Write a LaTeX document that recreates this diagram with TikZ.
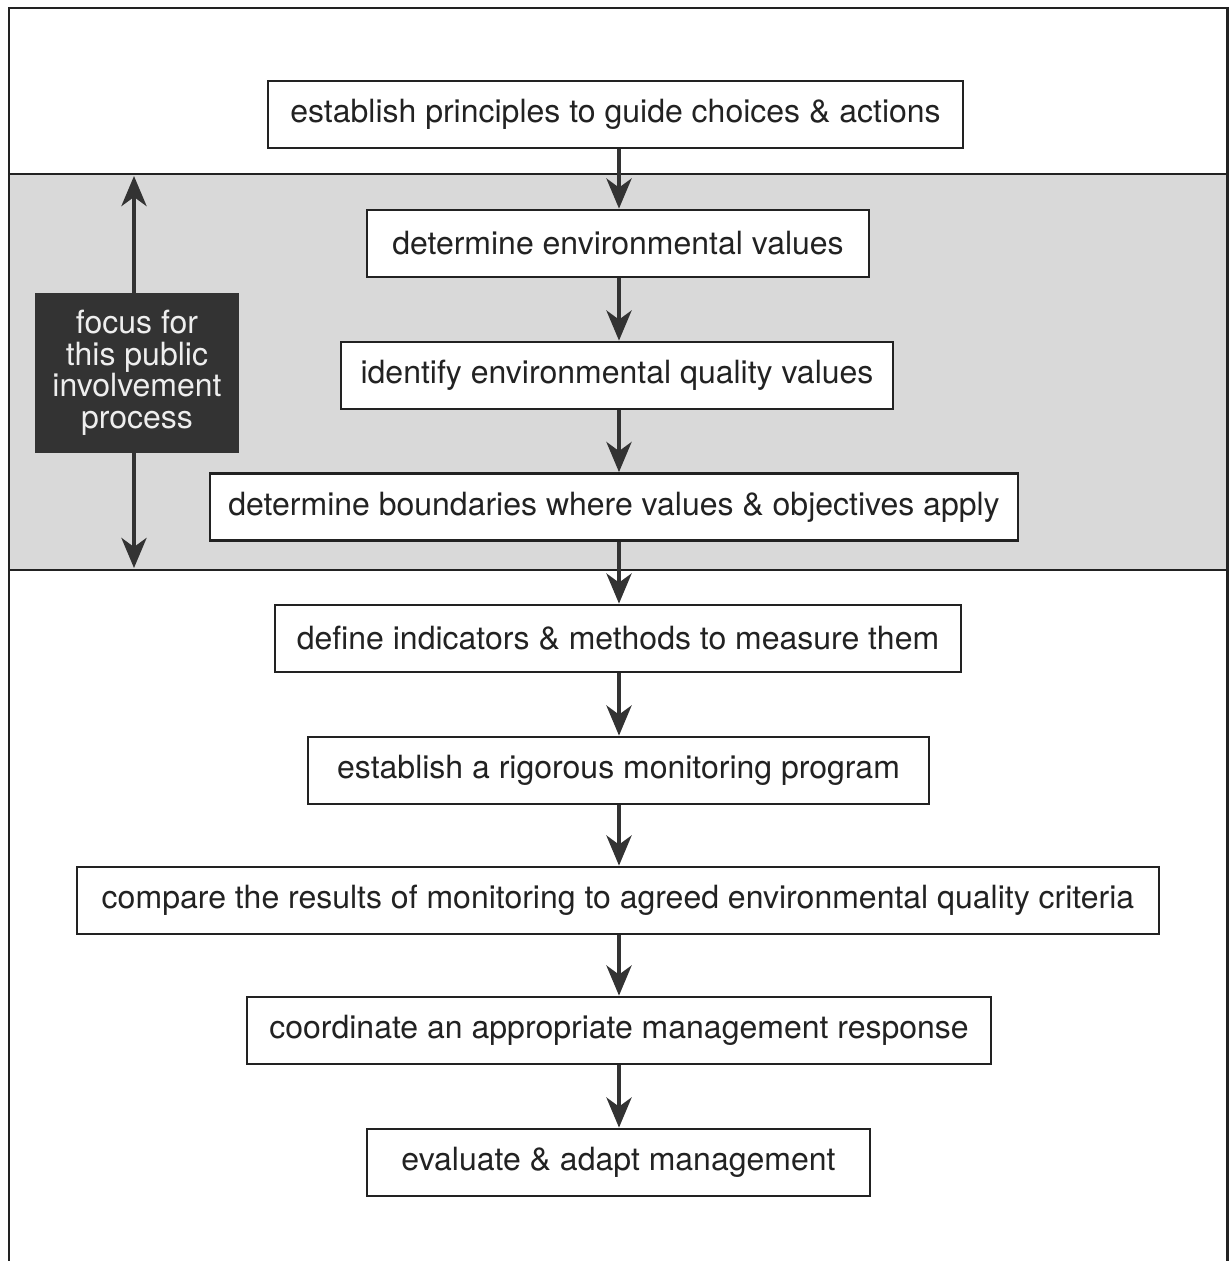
\documentclass[tikz,border=0pt]{standalone}
\usepackage{fontspec}
\setmainfont{TeX Gyre Heros}
\usetikzlibrary{arrows.meta}
\definecolor{ink}{HTML}{222222}
\definecolor{arrowc}{HTML}{333333}
\definecolor{band}{HTML}{D9D9D9}
\definecolor{darkbox}{HTML}{333333}
\definecolor{lighttext}{HTML}{EEEEEE}
\tikzset{
  stepbox/.style={draw=ink, line width=2.8pt, fill=white, inner sep=0pt, minimum height=67pt,
    font=\fontsize{32}{36}\selectfont, text=ink},
  flow/.style={draw=arrowc, line width=4.5pt, -{Stealth[length=30pt,width=25pt,inset=9pt]}},
  dflow/.style={draw=arrowc, line width=4.5pt, {Stealth[length=30pt,width=25pt,inset=9pt]}-{Stealth[length=30pt,width=25pt,inset=9pt]}},
  frame/.style={draw=ink, line width=2.8pt},
}
\begin{document}
\begin{tikzpicture}[x=1pt,y=-1pt]
\useasboundingbox (0,0) rectangle (1229,1261);
% band
\fill[band] (9,174) rectangle (1228,570);
\draw[frame] (9,174) -- (1228,174);
\draw[frame] (9,570) -- (1228,570);
% frame
\draw[frame] (9,1261) -- (9,8) -- (1227.5,8) -- (1227.5,1261);

\coordinate (ax) at (619,0);

\node[stepbox, minimum width=695pt] (b1) at (615.5,114.5) {establish principles to guide choices \& actions};
\node[stepbox, minimum width=502pt] (b2) at (618,243.5) {determine environmental values};
\node[stepbox, minimum width=552pt] (b3) at (617,375.5) {identify environmental quality values};
\node[stepbox, minimum width=808pt] (b4) at (614,507) {determine boundaries where values \& objectives apply};
\node[stepbox, minimum width=686pt] (b5) at (618,638.5) {define indicators \& methods to measure them};
\node[stepbox, minimum width=621pt] (b6) at (618.5,770.5) {establish a rigorous monitoring program};
\node[stepbox, minimum width=1082pt] (b7) at (618,900.5) {compare the results of monitoring to agreed environmental quality criteria};
\node[stepbox, minimum width=744pt] (b8) at (619,1030.5) {coordinate an appropriate management response};
\node[stepbox, minimum width=503pt] (b9) at (618.5,1162.5) {evaluate \& adapt management};

\foreach \a/\b in {b1/b2,b2/b3,b3/b4,b4/b5,b5/b6,b6/b7,b7/b8,b8/b9}
  \draw[flow] (\a.south -| ax) -- (\b.north -| ax);

% left double arrow and focus box
\coordinate (ltop) at (134,176);
\coordinate (lbot) at (134,568);
\draw[dflow] (ltop) -- (lbot);
\node[fill=darkbox, minimum width=204pt, minimum height=160pt, inner sep=0pt,
  text=lighttext, align=center, font=\fontsize{32}{31.5}\selectfont] (focus) at (137,373)
  {focus for\\this public\\involvement\\process};
\end{tikzpicture}
\end{document}
